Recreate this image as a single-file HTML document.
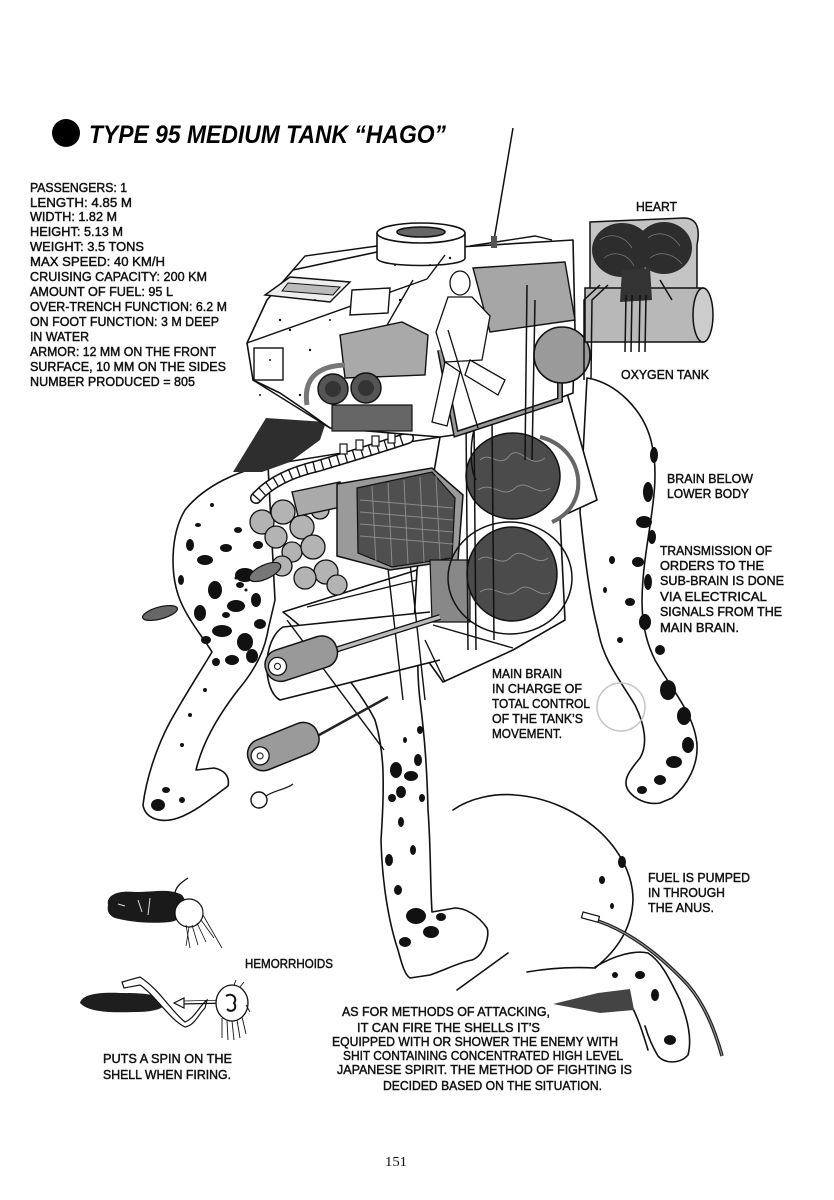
<!DOCTYPE html>
<html><head><meta charset="utf-8">
<style>
html,body{margin:0;padding:0;background:#fff;}
svg{display:block;}
.t{font-family:"Liberation Sans",sans-serif;font-size:13px;fill:#111;stroke:#111;stroke-width:0.45;}
</style></head><body>
<svg width="834" height="1200" viewBox="0 0 834 1200" xmlns="http://www.w3.org/2000/svg">
<rect width="834" height="1200" fill="#fff"/>

<!-- TITLE -->
<circle cx="66" cy="133" r="14" fill="#000"/>
<text x="89" y="143" font-family="Liberation Sans" font-weight="bold" font-style="italic" font-size="25" fill="#000" textLength="357" lengthAdjust="spacingAndGlyphs">TYPE 95 MEDIUM TANK “HAGO”</text>

<!-- SPECS -->
<g class="t">
<text class="t" x="30" y="192" textLength="97" lengthAdjust="spacingAndGlyphs">PASSENGERS: 1</text>
<text class="t" x="30" y="207" textLength="102" lengthAdjust="spacingAndGlyphs">LENGTH: 4.85 M</text>
<text class="t" x="30" y="221" textLength="87" lengthAdjust="spacingAndGlyphs">WIDTH: 1.82 M</text>
<text class="t" x="30" y="236" textLength="93" lengthAdjust="spacingAndGlyphs">HEIGHT: 5.13 M</text>
<text class="t" x="30" y="251" textLength="114" lengthAdjust="spacingAndGlyphs">WEIGHT: 3.5 TONS</text>
<text class="t" x="30" y="266" textLength="135" lengthAdjust="spacingAndGlyphs">MAX SPEED: 40 KM/H</text>
<text class="t" x="30" y="281" textLength="177" lengthAdjust="spacingAndGlyphs">CRUISING CAPACITY: 200 KM</text>
<text class="t" x="30" y="296" textLength="143" lengthAdjust="spacingAndGlyphs">AMOUNT OF FUEL: 95 L</text>
<text class="t" x="30" y="311" textLength="197" lengthAdjust="spacingAndGlyphs">OVER-TRENCH FUNCTION: 6.2 M</text>
<text class="t" x="30" y="326" textLength="189" lengthAdjust="spacingAndGlyphs">ON FOOT FUNCTION: 3 M DEEP</text>
<text class="t" x="30" y="341" textLength="59" lengthAdjust="spacingAndGlyphs">IN WATER</text>
<text class="t" x="30" y="356" textLength="186" lengthAdjust="spacingAndGlyphs">ARMOR: 12 MM ON THE FRONT</text>
<text class="t" x="30" y="371" textLength="196" lengthAdjust="spacingAndGlyphs">SURFACE, 10 MM ON THE SIDES</text>
<text class="t" x="30" y="386" textLength="165" lengthAdjust="spacingAndGlyphs">NUMBER PRODUCED = 805</text>
</g>

<!-- ============ LEGS (back layer) ============ -->
<g stroke="#111" stroke-width="1.6" fill="#fff" stroke-linejoin="round">
<path d="M587,378 C615,382 645,410 652,445 C660,480 650,520 645,560 C640,600 640,630 655,660 C672,690 695,715 697,745 C698,765 688,785 672,798 L660,803 C648,805 635,800 628,790 C622,780 630,770 640,758 C648,745 645,725 635,705 C620,680 603,660 598,630 C590,600 585,560 580,512 Z"/>
<path d="M283,612 C320,640 360,690 375,720 C384,750 385,780 381,840 C382,880 388,920 398,950 C402,965 405,975 410,978 L430,975 C445,970 460,962 472,960 C485,955 490,935 487,928 C478,915 465,908 455,908 L432,912 C430,880 431,850 428,810 C427,770 425,740 420,700 C415,660 420,600 417,570 Z"/>
<path d="M268,465 C240,470 205,485 185,510 C170,535 170,575 180,600 C188,620 205,640 212,652 C200,672 185,695 170,722 C156,748 146,780 143,805 C145,818 160,824 178,818 C195,812 212,798 228,786 C230,776 224,770 214,768 L196,770 C202,745 215,720 238,690 C255,670 265,650 268,630 L275,600 Z"/>
</g>

<!-- leg blotches -->
<g fill="#111">
<ellipse cx="205" cy="560" rx="8" ry="5"/><ellipse cx="226" cy="548" rx="6" ry="4"/>
<ellipse cx="245" cy="575" rx="10" ry="7"/><ellipse cx="215" cy="590" rx="7" ry="9"/>
<ellipse cx="236" cy="606" rx="9" ry="6"/><ellipse cx="200" cy="613" rx="6" ry="8"/>
<ellipse cx="256" cy="600" rx="5" ry="7"/><ellipse cx="222" cy="631" rx="10" ry="6"/>
<ellipse cx="245" cy="642" rx="8" ry="9"/><ellipse cx="206" cy="640" rx="5" ry="4"/>
<ellipse cx="260" cy="624" rx="6" ry="5"/><ellipse cx="190" cy="545" rx="4" ry="6"/>
<ellipse cx="232" cy="660" rx="7" ry="5"/><ellipse cx="252" cy="656" rx="6" ry="7"/>
<ellipse cx="216" cy="662" rx="4" ry="4"/><ellipse cx="181" cy="580" rx="3" ry="5"/>
<ellipse cx="238" cy="530" rx="4" ry="3"/><ellipse cx="212" cy="505" rx="2" ry="2"/>
<ellipse cx="198" cy="525" rx="3" ry="2"/><ellipse cx="258" cy="545" rx="5" ry="4"/>
<ellipse cx="240" cy="585" rx="4" ry="3"/><ellipse cx="226" cy="615" rx="4" ry="3"/>
<ellipse cx="205" cy="690" rx="2" ry="2"/><ellipse cx="190" cy="715" rx="2" ry="2"/>
<ellipse cx="182" cy="745" rx="2" ry="2"/><ellipse cx="158" cy="805" rx="7" ry="6"/>
<ellipse cx="166" cy="790" rx="4" ry="3"/><ellipse cx="182" cy="800" rx="3" ry="3"/>
<ellipse cx="396" cy="770" rx="6" ry="8"/><ellipse cx="411" cy="776" rx="7" ry="5"/>
<ellipse cx="401" cy="792" rx="5" ry="6"/><ellipse cx="418" cy="760" rx="4" ry="6"/>
<ellipse cx="392" cy="798" rx="4" ry="4"/><ellipse cx="422" cy="798" rx="3" ry="4"/>
<ellipse cx="401" cy="822" rx="3" ry="5"/><ellipse cx="389" cy="860" rx="4" ry="6"/>
<ellipse cx="413" cy="850" rx="3" ry="5"/><ellipse cx="416" cy="916" rx="10" ry="8"/>
<ellipse cx="431" cy="932" rx="8" ry="6"/><ellipse cx="405" cy="942" rx="6" ry="5"/>
<ellipse cx="441" cy="917" rx="5" ry="4"/><ellipse cx="398" cy="890" rx="4" ry="5"/>
<ellipse cx="420" cy="730" rx="3" ry="4"/><ellipse cx="405" cy="740" rx="2" ry="3"/>
<ellipse cx="654" cy="455" rx="4" ry="8"/><ellipse cx="648" cy="492" rx="5" ry="10"/>
<ellipse cx="644" cy="522" rx="8" ry="6"/><ellipse cx="652" cy="537" rx="4" ry="7"/>
<ellipse cx="638" cy="562" rx="6" ry="5"/><ellipse cx="648" cy="582" rx="4" ry="8"/>
<ellipse cx="630" cy="602" rx="5" ry="4"/><ellipse cx="645" cy="622" rx="6" ry="8"/>
<ellipse cx="660" cy="650" rx="5" ry="5"/><ellipse cx="668" cy="690" rx="8" ry="10"/>
<ellipse cx="684" cy="716" rx="7" ry="9"/><ellipse cx="688" cy="745" rx="6" ry="8"/>
<ellipse cx="674" cy="762" rx="8" ry="6"/><ellipse cx="660" cy="780" rx="6" ry="5"/>
<ellipse cx="642" cy="790" rx="5" ry="4"/><ellipse cx="612" cy="560" rx="3" ry="4"/>
<ellipse cx="620" cy="640" rx="3" ry="3"/><ellipse cx="605" cy="590" rx="2" ry="3"/>
</g>

<!-- lower-right bent figure -->
<g stroke="#111" stroke-width="1.6" fill="none" stroke-linecap="round">
<path d="M453,810 C470,798 495,793 515,795 C545,797 575,810 598,830 C620,850 633,875 633,900 C632,925 620,948 595,968"/>
<path d="M527,972 C550,968 575,967 595,968"/>
<path d="M457,990 L508,953"/>
<path d="M595,967 C615,955 635,950 648,953 C662,962 670,980 680,1000 C688,1020 692,1040 688,1055 C680,1064 665,1064 658,1056 C652,1046 648,1036 645,1026"/>
<path d="M628,1000 C636,1012 642,1030 648,1050"/>
</g>
<polygon points="553,1004 598,993 630,989 634,1010 600,1013" fill="#444"/>
<g fill="#111">
<ellipse cx="602" cy="880" rx="3" ry="4"/><ellipse cx="622" cy="862" rx="4" ry="6"/>
<ellipse cx="612" cy="906" rx="2" ry="3"/><ellipse cx="640" cy="975" rx="5" ry="4"/>
<ellipse cx="655" cy="995" rx="4" ry="6"/><ellipse cx="670" cy="1040" rx="6" ry="5"/>
<ellipse cx="615" cy="975" rx="3" ry="3"/>
</g>
<path d="M598,921 C630,932 660,955 688,985 C705,1005 715,1030 722,1056" fill="none" stroke="#222" stroke-width="3.5"/>
<path d="M598,921 C630,932 660,955 688,985 C705,1005 715,1030 722,1056" fill="none" stroke="#999" stroke-width="1"/>
<rect x="582" y="914" width="17" height="6" fill="#fff" stroke="#111" stroke-width="1.2" transform="rotate(15 590 917)"/>

<!-- ============ BODY / TORSO ============ -->
<g stroke="#111" stroke-width="1.6" fill="#fff" stroke-linejoin="round">
<path d="M440,437 L567,393 L597,500 L560,517 L565,620 L513,650 L443,682 L413,640 L417,570 Z"/>
<path d="M430,612 L283,627 C262,640 262,690 280,700 L440,660" fill="#fff"/>
</g>
<g stroke="#111" stroke-width="1.4" fill="none">
<line x1="387" y1="560" x2="403" y2="700"/>
<line x1="410" y1="563" x2="425" y2="700"/>
<line x1="287" y1="620" x2="384" y2="750"/>
<line x1="307" y1="607" x2="417" y2="580"/>
<line x1="425" y1="640" x2="445" y2="682"/>
<line x1="433" y1="625" x2="513" y2="648"/>
<line x1="440" y1="437" x2="268" y2="465"/>
</g>

<polygon points="233,472 266,418 326,422 320,440 290,462 262,472" fill="#2e2e2e"/>

<!-- spine -->
<path d="M256,498 C270,482 292,472 318,466 C345,458 372,450 408,438" fill="none" stroke="#111" stroke-width="12" stroke-linecap="round"/>
<path d="M256,498 C270,482 292,472 318,466 C345,458 372,450 408,438" fill="none" stroke="#fff" stroke-width="9" stroke-linecap="round"/>
<path d="M256,498 C270,482 292,472 318,466 C345,458 372,450 408,438" fill="none" stroke="#111" stroke-width="12" stroke-dasharray="1.3,7"/>
<g fill="#fff" stroke="#111" stroke-width="1.2">
<rect x="340" y="444" width="7" height="10"/><rect x="356" y="440" width="7" height="10"/><rect x="372" y="436" width="7" height="10"/><rect x="388" y="433" width="7" height="10"/>
</g>

<!-- intestines -->
<g fill="#b3b3b3" stroke="#111" stroke-width="1.3">
<circle cx="262" cy="522" r="12"/><circle cx="283" cy="512" r="12"/>
<circle cx="276" cy="537" r="11"/><circle cx="302" cy="527" r="12"/>
<circle cx="292" cy="552" r="10"/><circle cx="313" cy="547" r="12"/>
<circle cx="326" cy="572" r="12"/><circle cx="305" cy="578" r="11"/>
<circle cx="337" cy="585" r="10"/><circle cx="282" cy="566" r="10"/>
<circle cx="320" cy="510" r="9"/>
</g>
<ellipse cx="265" cy="572" rx="17" ry="7" fill="#777" stroke="#111" stroke-width="1.2" transform="rotate(-25 265 572)"/>
<g fill="#111"><circle cx="244" cy="580" r="2"/><circle cx="240" cy="585" r="1.5"/><circle cx="236" cy="578" r="1.5"/><circle cx="246" cy="590" r="1.5"/></g>

<!-- cannon tube & shell rack -->
<polygon points="292,492 340,482 346,506 298,516" fill="#aaa" stroke="#111" stroke-width="1.4"/>
<polygon points="337,484 432,468 463,495 458,560 390,570 337,556" fill="#9a9a9a" stroke="#111" stroke-width="1.5"/>
<polygon points="357,488 432,472 455,498 452,558 392,567 358,553" fill="#4f4f4f" stroke="#111" stroke-width="1.2"/>
<g stroke="#8a8a8a" stroke-width="1">
<line x1="360" y1="500" x2="453" y2="508"/><line x1="360" y1="512" x2="453" y2="520"/>
<line x1="360" y1="524" x2="453" y2="532"/><line x1="360" y1="536" x2="453" y2="544"/>
<line x1="372" y1="486" x2="376" y2="563"/><line x1="388" y1="483" x2="392" y2="566"/>
<line x1="404" y1="480" x2="408" y2="564"/><line x1="420" y1="477" x2="424" y2="562"/>
<line x1="436" y1="476" x2="440" y2="560"/>
</g>

<!-- brains -->
<path d="M430,560 L470,560 L470,622 L432,622 Z" fill="#888" stroke="#111" stroke-width="1.2"/>
<ellipse cx="510" cy="578" rx="62" ry="56" fill="none" stroke="#111" stroke-width="1.5"/>
<ellipse cx="513" cy="476" rx="47" ry="43" fill="#4b4b4b" stroke="#111" stroke-width="1.5"/>
<ellipse cx="512" cy="574" rx="45" ry="47" fill="#4b4b4b" stroke="#111" stroke-width="1.5"/>
<g stroke="#888" stroke-width="1" fill="none">
<path d="M480,460 C490,450 500,470 510,455 C520,445 530,470 545,458"/>
<path d="M478,490 C492,480 502,500 515,488 C528,478 536,498 550,488"/>
<path d="M478,560 C490,550 500,570 512,556 C524,546 536,568 548,558"/>
<path d="M480,592 C494,582 504,602 518,590 C530,580 540,600 550,592"/>
</g>
<path d="M540,437 C585,448 592,505 552,522" fill="none" stroke="#666" stroke-width="4"/>
<g stroke="#111" stroke-width="1.5" fill="none">
<line x1="466" y1="420" x2="468" y2="650"/><line x1="474" y1="420" x2="476" y2="650"/>
<line x1="492" y1="420" x2="494" y2="640"/>
<path d="M474,430 C470,445 470,470 476,480"/>
</g>

<!-- ============ TANK ============ -->
<g stroke="#111" stroke-width="1.6" stroke-linejoin="round">
<polygon points="247,343 267,300 293,270 377,252 573,240 575,330 573,393 467,433 440,437 330,428 305,410 280,393 253,380" fill="#fff"/>
<path d="M377,233 L377,258 C377,268 465,268 465,258 L465,233 Z" fill="#fff"/>
<ellipse cx="421" cy="233" rx="44" ry="10" fill="#fff"/>
<ellipse cx="421" cy="232" rx="24" ry="5" fill="#666"/>
</g>
<g stroke="#111" stroke-width="1.4" fill="none">
<line x1="247" y1="343" x2="427" y2="279"/>
<line x1="253" y1="380" x2="330" y2="428"/>
<polyline points="293,270 305,256 377,246"/>
<polyline points="470,246 535,236 552,240"/>
<line x1="413" y1="280" x2="367" y2="360"/>
<line x1="427" y1="279" x2="445" y2="255"/>
</g>
<polygon points="265,295 290,277 350,282 330,302" fill="#eee" stroke="#111" stroke-width="1.4"/>
<polygon points="288,283 340,287 333,295 282,291" fill="#bbb" stroke="#111" stroke-width="1"/>
<polygon points="352,290 390,288 388,313 350,315" fill="#fff" stroke="#111" stroke-width="1.4"/>
<rect x="254" y="348" width="29" height="32" fill="#fff" stroke="#111" stroke-width="1.4"/>
<polygon points="473,268 565,262 575,320 490,332" fill="#a6a6a6" stroke="#111" stroke-width="1.4"/>
<polygon points="340,335 402,322 428,335 425,375 345,378" fill="#a9a9a9" stroke="#111" stroke-width="1.4"/>
<circle cx="333" cy="389" r="15" fill="#555" stroke="#111" stroke-width="1.4"/>
<circle cx="366" cy="388" r="15" fill="#555" stroke="#111" stroke-width="1.4"/>
<circle cx="333" cy="389" r="8" fill="#333"/><circle cx="366" cy="388" r="8" fill="#333"/>
<rect x="332" y="405" width="80" height="26" fill="#666" stroke="#111" stroke-width="1.2"/>
<path d="M307,405 C303,378 318,366 345,365" fill="none" stroke="#777" stroke-width="5"/>
<path d="M440,350 L456,434 L560,400 L560,330" fill="none" stroke="#111" stroke-width="6"/>
<path d="M440,350 L456,434 L560,400 L560,330" fill="none" stroke="#999" stroke-width="3"/>
<line x1="527" y1="285" x2="525" y2="460" stroke="#111" stroke-width="1.5"/>
<line x1="535" y1="300" x2="532" y2="460" stroke="#111" stroke-width="1.5"/>
<g stroke="#111" stroke-width="1.3" fill="#fff">
<path d="M448,297 L436,332 L445,362 L482,360 L490,316 L472,297 Z"/>
<ellipse cx="460" cy="283" rx="10" ry="12"/>
<path d="M445,362 L432,422 L447,426 L460,372 Z"/>
<path d="M470,360 L505,380 L498,395 L465,375 Z"/>
<line x1="448" y1="330" x2="478" y2="428"/>
</g>
<circle cx="562" cy="355" r="28" fill="#9a9a9a" stroke="#111" stroke-width="1.6"/>
<line x1="513" y1="128" x2="494" y2="240" stroke="#111" stroke-width="1.5"/>
<rect x="491" y="236" width="6" height="12" fill="#555"/>
<g fill="#111">
<circle cx="290" cy="330" r="1.2"/><circle cx="310" cy="350" r="1.2"/><circle cx="270" cy="360" r="1"/>
<circle cx="400" cy="300" r="1.2"/><circle cx="430" cy="265" r="1"/><circle cx="330" cy="320" r="1"/>
<circle cx="300" cy="395" r="1.2"/><circle cx="450" cy="258" r="1.2"/><circle cx="260" cy="395" r="1"/>
<circle cx="315" cy="300" r="1"/><circle cx="280" cy="320" r="1.2"/><circle cx="395" cy="265" r="1"/>
</g>

<!-- ============ HEART & OXYGEN TANK ============ -->
<path d="M590,222 L684,218 C698,218 700,230 697,245 L697,290 L590,292 Z" fill="#c4c4c4" stroke="#111" stroke-width="1.5"/>
<ellipse cx="622" cy="250" rx="30" ry="27" fill="#2d2d2d"/>
<ellipse cx="664" cy="248" rx="28" ry="26" fill="#2d2d2d"/>
<g stroke="#777" stroke-width="0.8" fill="none">
<path d="M600,240 C610,232 625,236 632,248"/><path d="M604,258 C614,250 628,254 634,266"/>
<path d="M648,238 C658,230 672,234 680,246"/><path d="M650,258 C660,250 674,254 682,264"/>
</g>
<rect x="585" y="288" width="118" height="54" fill="#b8b8b8" stroke="#111" stroke-width="1.5"/>
<ellipse cx="703" cy="315" rx="10" ry="27" fill="#ccc" stroke="#111" stroke-width="1.5"/>
<path d="M622,270 L650,268 L652,300 L620,302 Z" fill="#333"/>
<g stroke="#111" stroke-width="1.5" fill="none">
<path d="M600,285 L584,300 L584,380"/><path d="M608,285 L592,300 L591,378"/>
<line x1="626" y1="295" x2="625" y2="352"/><line x1="632" y1="295" x2="631" y2="352"/>
<line x1="640" y1="295" x2="639" y2="352"/><line x1="646" y1="295" x2="645" y2="352"/>
<path d="M660,280 L672,300"/>
</g>

<!-- ============ SHELLS LEFT ============ -->
<ellipse cx="160" cy="613" rx="18" ry="6" fill="#666" stroke="#111" stroke-width="1.2" transform="rotate(-15 160 613)"/>
<line x1="335" y1="650" x2="440" y2="617" stroke="#111" stroke-width="6"/>
<line x1="335" y1="650" x2="440" y2="617" stroke="#bbb" stroke-width="3.5"/>
<g transform="rotate(-18 300 658)">
<rect x="264" y="643" width="74" height="32" rx="15" fill="#999" stroke="#111" stroke-width="1.5"/>
<circle cx="276" cy="659" r="9" fill="#fff" stroke="#111" stroke-width="1.3"/>
<circle cx="276" cy="659" r="3" fill="#fff" stroke="#111" stroke-width="1"/>
</g>
<line x1="310" y1="740" x2="388" y2="697" stroke="#222" stroke-width="2.5"/>
<g transform="rotate(-22 282 746)">
<rect x="246" y="731" width="74" height="32" rx="15" fill="#9a9a9a" stroke="#111" stroke-width="1.5"/>
<circle cx="258" cy="747" r="9" fill="#fff" stroke="#111" stroke-width="1.3"/>
<circle cx="258" cy="747" r="3" fill="#fff" stroke="#111" stroke-width="1"/>
</g>
<circle cx="259" cy="800" r="8" fill="#fff" stroke="#111" stroke-width="1.4"/>
<path d="M266,796 C275,790 285,790 293,784" fill="none" stroke="#111" stroke-width="1.2"/>

<!-- ============ HEMORRHOIDS ============ -->
<path d="M108,905 C106,895 118,890 135,892 C155,892 170,888 182,895 C190,905 185,920 170,922 C150,924 130,922 115,918 C108,915 107,910 108,905 Z" fill="#1a1a1a"/>
<g stroke="#ddd" stroke-width="1" fill="none"><path d="M138,900 L142,912"/><path d="M150,898 L148,915"/><path d="M118,904 L125,906"/></g>
<circle cx="189" cy="913" r="14" fill="#fff" stroke="#111" stroke-width="1.2"/>
<path d="M175,893 C176,886 182,882 188,878" fill="none" stroke="#111" stroke-width="1.3"/>
<g stroke="#111" stroke-width="0.8">
<line x1="186" y1="925" x2="190" y2="948"/><line x1="192" y1="925" x2="198" y2="945"/><line x1="197" y1="923" x2="206" y2="942"/>
<line x1="201" y1="920" x2="214" y2="938"/><line x1="203" y1="915" x2="222" y2="948"/><line x1="189" y1="927" x2="186" y2="946"/>
</g>
<path d="M80,1003 C82,994 100,992 120,993 C140,993 158,994 165,1000 C168,1008 155,1012 135,1012 C110,1013 88,1012 80,1003 Z" fill="#1e1e1e"/>
<path d="M122,982 L140,977 C160,990 170,1010 185,1022 C195,1018 200,1005 207,1000 L205,1008 C198,1015 195,1025 185,1027 C170,1020 155,995 140,985 L124,988 Z" fill="#fff" stroke="#111" stroke-width="1.2"/>
<line x1="230" y1="1003" x2="180" y2="1004" stroke="#111" stroke-width="1.3"/>
<line x1="230" y1="1000" x2="182" y2="1001" stroke="#111" stroke-width="0.8"/>
<polygon points="174,1003 184,998 184,1008" fill="#fff" stroke="#111" stroke-width="1.2"/>
<ellipse cx="232" cy="1003" rx="16" ry="18" fill="#fff" stroke="#111" stroke-width="1.3"/>
<path d="M226,996 C232,992 238,998 234,1003 C238,1008 232,1014 227,1009" fill="none" stroke="#111" stroke-width="2"/>
<g stroke="#111" stroke-width="0.9">
<line x1="222" y1="1018" x2="222" y2="1038"/><line x1="227" y1="1020" x2="228" y2="1040"/><line x1="232" y1="1021" x2="234" y2="1040"/>
<line x1="237" y1="1020" x2="240" y2="1038"/><line x1="242" y1="1017" x2="246" y2="1034"/><line x1="246" y1="1005" x2="250" y2="1012"/>
<line x1="240" y1="987" x2="244" y2="982"/><line x1="234" y1="985" x2="236" y2="980"/>
</g>

<circle cx="621" cy="707" r="24" fill="none" stroke="#c4c4c4" stroke-width="1.5"/>

<!-- ============ LABELS ============ -->
<g class="t">
<text class="t" x="636" y="211" textLength="41" lengthAdjust="spacingAndGlyphs">HEART</text>
<text class="t" x="621" y="379" textLength="88" lengthAdjust="spacingAndGlyphs">OXYGEN TANK</text>
<text class="t" x="667" y="483" textLength="86" lengthAdjust="spacingAndGlyphs">BRAIN BELOW</text>
<text class="t" x="667" y="498" textLength="82" lengthAdjust="spacingAndGlyphs">LOWER BODY</text>
<text class="t" x="660" y="555" textLength="112" lengthAdjust="spacingAndGlyphs">TRANSMISSION OF</text>
<text class="t" x="660" y="570" textLength="104" lengthAdjust="spacingAndGlyphs">ORDERS TO THE</text>
<text class="t" x="660" y="585" textLength="124" lengthAdjust="spacingAndGlyphs">SUB-BRAIN IS DONE</text>
<text class="t" x="660" y="601" textLength="107" lengthAdjust="spacingAndGlyphs">VIA ELECTRICAL</text>
<text class="t" x="660" y="616" textLength="122" lengthAdjust="spacingAndGlyphs">SIGNALS FROM THE</text>
<text class="t" x="660" y="632" textLength="79" lengthAdjust="spacingAndGlyphs">MAIN BRAIN.</text>
<text class="t" x="492" y="678" textLength="70" lengthAdjust="spacingAndGlyphs">MAIN BRAIN</text>
<text class="t" x="492" y="693" textLength="90" lengthAdjust="spacingAndGlyphs">IN CHARGE OF</text>
<text class="t" x="492" y="708" textLength="98" lengthAdjust="spacingAndGlyphs">TOTAL CONTROL</text>
<text class="t" x="492" y="723" textLength="91" lengthAdjust="spacingAndGlyphs">OF THE TANK’S</text>
<text class="t" x="492" y="738" textLength="70" lengthAdjust="spacingAndGlyphs">MOVEMENT.</text>
<text class="t" x="648" y="882" textLength="102" lengthAdjust="spacingAndGlyphs">FUEL IS PUMPED</text>
<text class="t" x="648" y="897" textLength="77" lengthAdjust="spacingAndGlyphs">IN THROUGH</text>
<text class="t" x="648" y="912" textLength="66" lengthAdjust="spacingAndGlyphs">THE ANUS.</text>
<text class="t" x="245" y="968" textLength="88" lengthAdjust="spacingAndGlyphs">HEMORRHOIDS</text>
<text class="t" x="103" y="1063" textLength="129" lengthAdjust="spacingAndGlyphs">PUTS A SPIN ON THE</text>
<text class="t" x="103" y="1079" textLength="128" lengthAdjust="spacingAndGlyphs">SHELL WHEN FIRING.</text>
<text class="t" x="342" y="1016" textLength="208" lengthAdjust="spacingAndGlyphs">AS FOR METHODS OF ATTACKING,</text>
<text class="t" x="357" y="1032" textLength="183" lengthAdjust="spacingAndGlyphs">IT CAN FIRE THE SHELLS IT’S</text>
<text class="t" x="332" y="1046" textLength="286" lengthAdjust="spacingAndGlyphs">EQUIPPED WITH OR SHOWER THE ENEMY WITH</text>
<text class="t" x="343" y="1060" textLength="280" lengthAdjust="spacingAndGlyphs">SHIT CONTAINING CONCENTRATED HIGH LEVEL</text>
<text class="t" x="337" y="1074" textLength="295" lengthAdjust="spacingAndGlyphs">JAPANESE SPIRIT. THE METHOD OF FIGHTING IS</text>
<text class="t" x="383" y="1090" textLength="219" lengthAdjust="spacingAndGlyphs">DECIDED BASED ON THE SITUATION.</text>
</g>
<text x="385" y="1166" font-family="Liberation Serif" font-size="14" fill="#111" textLength="22" lengthAdjust="spacingAndGlyphs">151</text>
</svg>
</body></html>
